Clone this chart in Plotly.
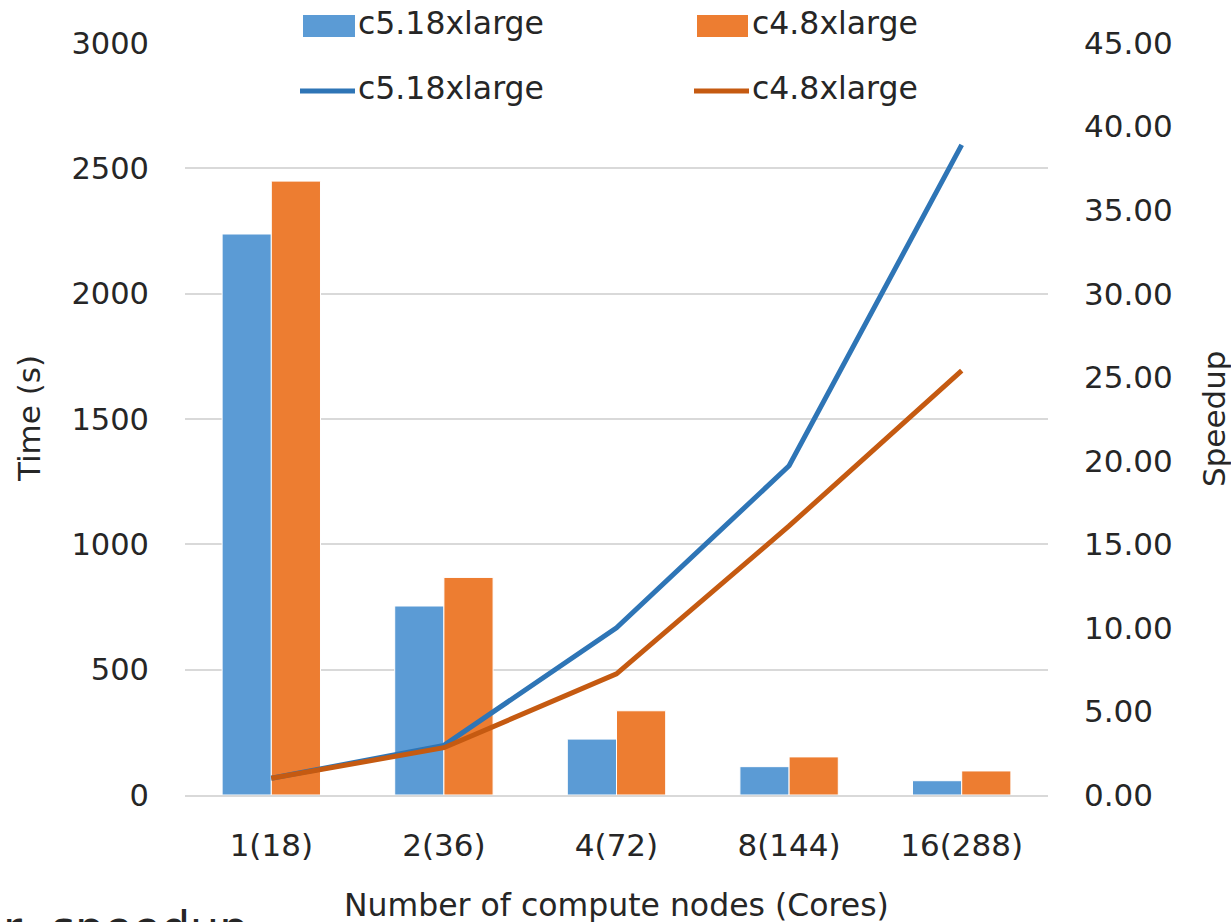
import plotly.graph_objects as go

categories = ["1(18)", "2(36)", "4(72)", "8(144)", "16(288)"]
time_c5 = [2238, 754, 223, 113, 57]
time_c4 = [2449, 868, 336, 152, 96]
speedup_c5 = [1.0, 2.97, 10.0, 19.7, 38.9]
speedup_c4 = [1.0, 2.83, 7.25, 16.1, 25.4]
series_names = ["c5.18xlarge", "c4.8xlarge"]
left_ticks = [0, 500, 1000, 1500, 2000, 2500, 3000]
right_ticks = [0, 5, 10, 15, 20, 25, 30, 35, 40, 45]

W, H = 1231, 922
L, R, T, B = 185, 1048, 43, 795
PW, PH = R - L, B - T

def px(x):
    return (x - L) / PW

def py(y):
    return (B - y) / PH

FONT = "DejaVu Sans"
TXT = "#262626"
BAR_C5, BAR_C4 = "#5B9BD5", "#ED7D31"
LINE_C5, LINE_C4 = "#2E75B6", "#C55A11"

fig = go.Figure()
fig.add_trace(go.Bar(x=categories, y=time_c5, name=series_names[0],
                     marker=dict(color=BAR_C5, line=dict(color="white", width=1)),
                     showlegend=False))
fig.add_trace(go.Bar(x=categories, y=time_c4, name=series_names[1],
                     marker=dict(color=BAR_C4, line=dict(color="white", width=1)),
                     showlegend=False))
fig.add_trace(go.Scatter(x=categories, y=speedup_c5, name=series_names[0], yaxis="y2",
                         mode="lines", line=dict(color=LINE_C5, width=5),
                         showlegend=False))
fig.add_trace(go.Scatter(x=categories, y=speedup_c4, name=series_names[1], yaxis="y2",
                         mode="lines", line=dict(color=LINE_C4, width=5),
                         showlegend=False))

shapes = []
annotations = []
# manual legend
leg_rows = [
    (303, 355, 356, BAR_C5, "bar", 26, series_names[0]),
    (697, 748, 750, BAR_C4, "bar", 26, series_names[1]),
    (300, 355, 356, LINE_C5, "line", 91, series_names[0]),
    (694, 749, 750, LINE_C4, "line", 91, series_names[1]),
]
for x0, x1, tx, col, kind, yc, name in leg_rows:
    if kind == "bar":
        shapes.append(dict(type="rect", xref="paper", yref="paper",
                           x0=px(x0), x1=px(x1), y0=py(yc + 11), y1=py(yc - 11),
                           fillcolor=col, line=dict(width=0)))
    else:
        shapes.append(dict(type="line", xref="paper", yref="paper",
                           x0=px(x0), x1=px(x1), y0=py(yc), y1=py(yc),
                           line=dict(color=col, width=5)))
    annotations.append(dict(text=name, xref="paper", yref="paper", x=px(tx), y=py(yc - 3),
                            xanchor="left", yanchor="middle", showarrow=False,
                            font=dict(family=FONT, size=31.5, color=TXT)))

annotations += [
    dict(text="Time (s)", xref="paper", yref="paper", x=px(29), y=py(419),
         textangle=-90, xanchor="center", yanchor="middle", showarrow=False,
         font=dict(family=FONT, size=31, color=TXT)),
    dict(text="Speedup", xref="paper", yref="paper", x=px(1214), y=py(419),
         textangle=-90, xanchor="center", yanchor="middle", showarrow=False,
         font=dict(family=FONT, size=31, color=TXT)),
    dict(text="Number of compute nodes (Cores)", xref="paper", yref="paper",
         x=px(616), y=py(905), xanchor="center", yanchor="middle", showarrow=False,
         font=dict(family=FONT, size=31.5, color=TXT)),
    dict(text="r  speedup", xref="paper", yref="paper", x=px(1), y=py(899),
         xanchor="left", yanchor="top", showarrow=False,
         font=dict(family=FONT, size=46, color=TXT)),
]

fig.update_layout(
    width=W, height=H,
    margin=dict(l=L, r=W - R, t=T, b=H - B, pad=0),
    paper_bgcolor="white", plot_bgcolor="white",
    barmode="group", bargap=0.43, bargroupgap=0,
    font=dict(family=FONT, size=31, color=TXT),
    shapes=shapes, annotations=annotations,
    xaxis=dict(type="category", showgrid=False, showline=True, linecolor="#D9D9D9",
               linewidth=2, ticks="", ticklabelstandoff=22,
               tickfont=dict(family=FONT, size=31, color=TXT)),
    yaxis=dict(range=[0, 3000], tickvals=left_ticks, showgrid=True, gridcolor="#D9D9D9",
               gridwidth=2, zeroline=False, showline=False, ticks="",
               ticklabelstandoff=35, tickfont=dict(family=FONT, size=30.5, color=TXT)),
    yaxis2=dict(range=[0, 45], tickvals=right_ticks, tickformat=".2f", overlaying="y",
                side="right", showgrid=False, zeroline=False, showline=False, ticks="",
                ticklabelstandoff=35, tickfont=dict(family=FONT, size=31, color=TXT)),
)

fig.write_html("out.html")
